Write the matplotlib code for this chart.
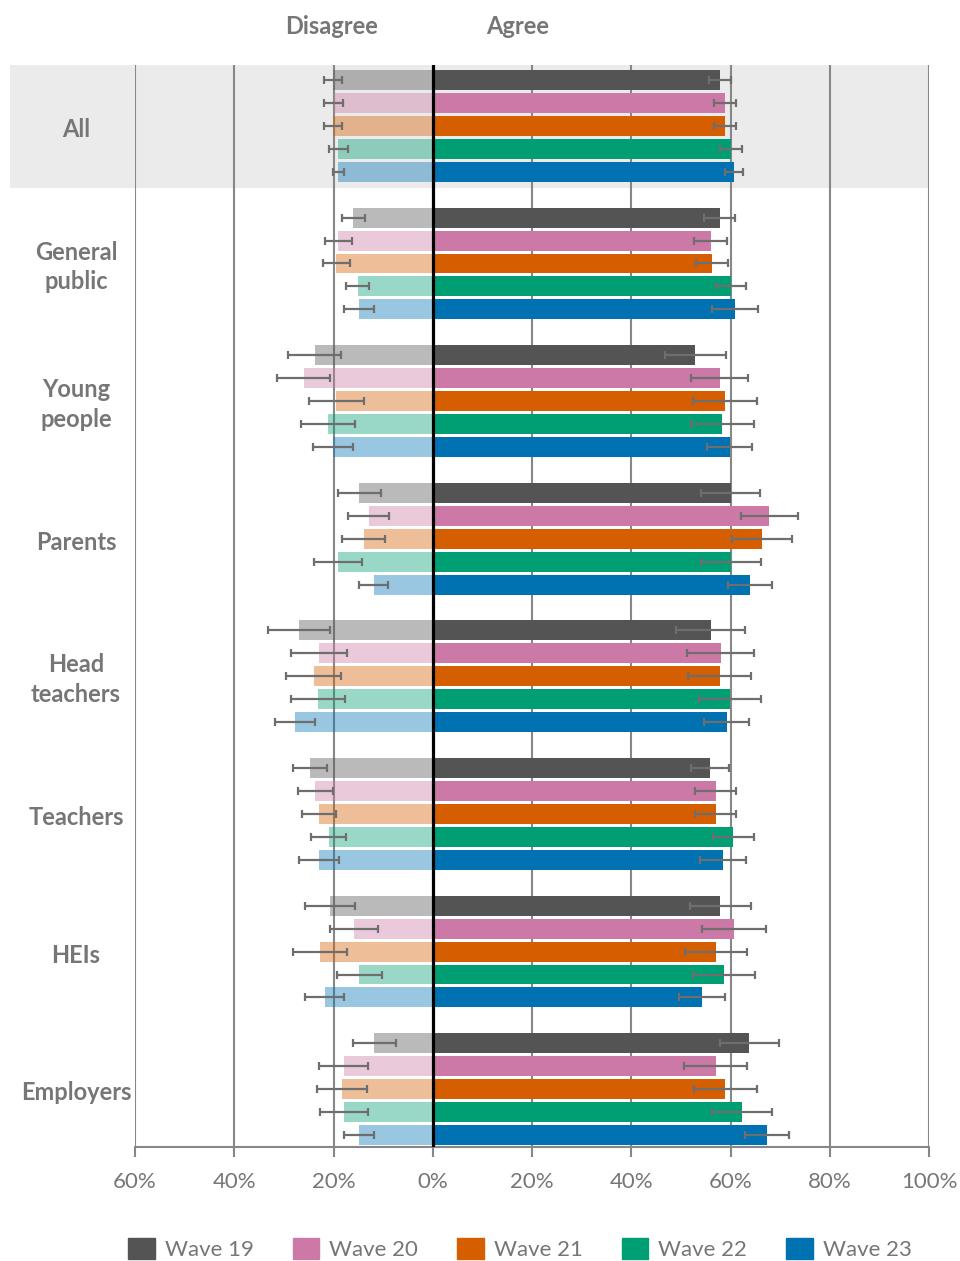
import matplotlib.pyplot as plt
import matplotlib.patches as mpatches
import matplotlib.transforms as mtransforms
import numpy as np

plt.rcParams['font.family'] = ['Lato', 'DejaVu Sans']

groups = ["All", "General\npublic", "Young\npeople", "Parents",
          "Head\nteachers", "Teachers", "HEIs", "Employers"]
waves = ["Wave 19", "Wave 20", "Wave 21", "Wave 22", "Wave 23"]
colors = ["#545454", "#CC79A7", "#D55E00", "#009E73", "#0072B2"]

# % agree, one row per group, one column per wave
agree = [
    [57.8, 58.9, 58.9, 60.1, 60.7],
    [57.8, 56.0, 56.2, 60.1, 60.9],
    [52.9, 57.8, 58.9, 58.3, 59.8],
    [60.0, 67.8, 66.3, 60.1, 64.0],
    [56.0, 58.0, 57.8, 59.9, 59.2],
    [55.9, 57.0, 57.0, 60.6, 58.5],
    [57.9, 60.8, 57.0, 58.7, 54.2],
    [63.8, 57.0, 58.9, 62.3, 67.4],
]
agree_err = [
    [2.2, 2.2, 2.2, 2.2, 1.75],
    [3.1, 3.3, 3.25, 3.05, 4.6],
    [6.1, 5.75, 6.5, 6.35, 4.6],
    [5.9, 5.75, 6.0, 6.1, 4.45],
    [6.9, 6.7, 6.4, 6.3, 4.6],
    [3.85, 4.2, 4.1, 4.05, 4.65],
    [6.15, 6.45, 6.25, 6.2, 4.65],
    [6.0, 6.35, 6.35, 6.05, 4.4],
]
# % disagree
disagree = [
    [20.1, 20.0, 20.1, 19.0, 19.0],
    [16.0, 19.0, 19.4, 15.1, 14.9],
    [23.8, 26.0, 19.4, 21.1, 20.1],
    [14.8, 12.9, 13.9, 19.1, 11.9],
    [27.0, 22.9, 24.0, 23.1, 27.8],
    [24.8, 23.7, 22.9, 21.0, 22.9],
    [20.7, 15.9, 22.7, 14.8, 21.8],
    [11.8, 17.9, 18.3, 17.9, 14.8],
]
disagree_err = [
    [1.8, 1.9, 1.85, 1.85, 1.15],
    [2.35, 2.65, 2.65, 2.3, 3.05],
    [5.3, 5.3, 5.5, 5.5, 3.95],
    [4.35, 4.15, 4.35, 4.9, 2.95],
    [6.25, 5.7, 5.55, 5.45, 4.05],
    [3.4, 3.55, 3.5, 3.45, 4.05],
    [5.1, 4.9, 5.4, 4.55, 4.0],
    [4.3, 4.95, 5.0, 4.8, 3.05],
]
xticks = [-60, -40, -20, 0, 20, 40, 60, 80, 100]

grey_txt = "#767676"
grid_col = "#878787"
err_col = "#6E6E6E"

fig = plt.figure(figsize=(9.6, 12.61), dpi=100)
ax = fig.add_axes([135 / 960, 1 - 1147 / 1261, 794 / 960, 1082 / 1261])

agree = np.array(agree)
disagree = np.array(disagree)
agree_err = np.array(agree_err)
disagree_err = np.array(disagree_err)

# grey band behind the "All" group
trans = mtransforms.blended_transform_factory(ax.transAxes, ax.transData)
band = mpatches.Rectangle((-0.1574, -0.66), 1.1574, 5.37, transform=trans,
                          facecolor="#EBEBEB", edgecolor="none",
                          clip_on=False, zorder=0)
ax.add_patch(band)

for x in xticks:
    if x != 0:
        ax.axvline(x, color=grid_col, lw=1.5, zorder=1)

for g in range(len(groups)):
    for i in range(len(waves)):
        y = g * 6 + i
        ax.barh(y, agree[g, i], height=0.87, color=colors[i], zorder=2)
        ax.barh(y, -disagree[g, i], height=0.87, color=colors[i], alpha=0.4,
                edgecolor="none", zorder=2)
        ax.errorbar(agree[g, i], y, xerr=agree_err[g, i], fmt="none",
                    ecolor=err_col, elinewidth=1.6, capsize=3, capthick=1.6,
                    zorder=4)
        ax.errorbar(-disagree[g, i], y, xerr=disagree_err[g, i], fmt="none",
                    ecolor=err_col, elinewidth=1.6, capsize=3, capthick=1.6,
                    zorder=4)

ax.axvline(0, color="black", lw=2.3, zorder=5)

ax.set_xlim(-60, 100)
ax.set_ylim(46.52, -0.654)
ax.set_yticks([])
ax.set_xticks(xticks)
ax.set_xticklabels([f"{abs(x)}%" for x in xticks])
ax.tick_params(axis="x", direction="out", length=7, width=1.5, color=grid_col,
               labelsize=16, labelcolor=grey_txt, pad=11)
for s in ["top", "right", "left"]:
    ax.spines[s].set_visible(False)
ax.spines["bottom"].set_color(grid_col)
ax.spines["bottom"].set_linewidth(1.5)
ax.patch.set_alpha(0)

for g, name in enumerate(groups):
    ax.text(-0.0743, g * 6 + 2.15, name, transform=trans, ha="center",
            va="center", fontsize=17, fontweight="bold", color=grey_txt,
            linespacing=1.35)

fig.text(332 / 960, 1 - 26 / 1261, "Disagree", ha="center", va="center",
         fontsize=17, fontweight="bold", color=grey_txt)
fig.text(518 / 960, 1 - 26 / 1261, "Agree", ha="center", va="center",
         fontsize=17, fontweight="bold", color=grey_txt)

handles = [mpatches.Patch(color=c, label=w) for c, w in zip(colors, waves)]
leg = fig.legend(handles=handles, loc="center", ncol=5,
                 bbox_to_anchor=(520 / 960, 1 - 1249 / 1261), frameon=False,
                 fontsize=16, handlelength=1.2, handleheight=1.1,
                 handletextpad=0.45, columnspacing=1.75, borderpad=0)
for t in leg.get_texts():
    t.set_color(grey_txt)

fig.savefig("out.png", dpi=100)
